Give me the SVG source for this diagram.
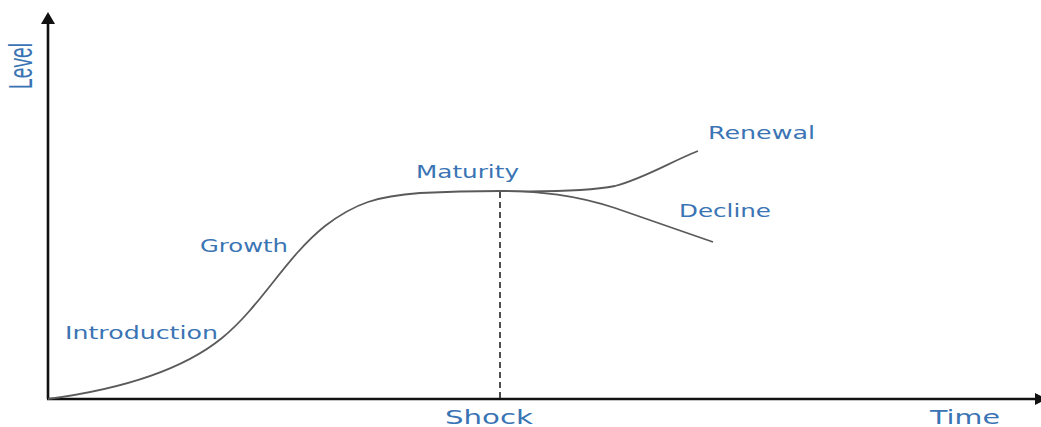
<svg xmlns="http://www.w3.org/2000/svg" width="1041" height="427" viewBox="0 0 1041 427">
<style>
.lbl{font-family:"DejaVu Sans","Verdana",sans-serif;font-size:18px;fill:#3a74b4}
.ax{font-family:"DejaVu Sans","Verdana",sans-serif;font-size:20px;fill:#3a74b4}
.curve{fill:none;stroke:#5a5a5a;stroke-width:1.8}
.axis{stroke:#111;stroke-width:2.6;fill:none}
</style>
<rect width="1041" height="427" fill="#fff"/>
<g id="axes">
<line class="axis" x1="48" y1="399" x2="48" y2="20"/>
<polygon points="41,24 48,12 55,24" fill="#111"/>
<line class="axis" x1="47" y1="399" x2="1041" y2="399"/>
<polygon points="1035,393 1047,399 1035,405" fill="#111"/>
</g>
<g id="connectors">
<path class="curve" d="M48,399 C130,388 185,368 222,338 C262,305 285,258 325,226 C355,203 378,196 420,193 C460,191 485,191 500,191"/>
<path class="curve" d="M500,191 C555,192 590,191 615,186 C645,178 670,162 698,151"/>
<path class="curve" d="M500,191 C540,191 575,195 615,208 C650,220 685,232 713,242"/>
<line x1="500" y1="192" x2="500" y2="399" stroke="#222" stroke-width="1.6" stroke-dasharray="6,4"/>
</g>
<g id="labels">
<text class="lbl" transform="translate(32,89) rotate(-90)" style="font-family:'Liberation Sans',Arial,sans-serif;font-size:33px" textLength="46" lengthAdjust="spacingAndGlyphs">Level</text>
<text class="lbl" x="65" y="339" textLength="153" lengthAdjust="spacingAndGlyphs">Introduction</text>
<text class="lbl" x="200" y="252" textLength="88" lengthAdjust="spacingAndGlyphs">Growth</text>
<text class="lbl" x="416" y="178" textLength="103" lengthAdjust="spacingAndGlyphs">Maturity</text>
<text class="lbl" x="708" y="139" textLength="107" lengthAdjust="spacingAndGlyphs">Renewal</text>
<text class="lbl" x="679" y="217" textLength="92" lengthAdjust="spacingAndGlyphs">Decline</text>
<text class="ax" x="445" y="424" textLength="88" lengthAdjust="spacingAndGlyphs">Shock</text>
<text class="ax" x="930" y="424" textLength="70" lengthAdjust="spacingAndGlyphs">Time</text>
</g>
</svg>
